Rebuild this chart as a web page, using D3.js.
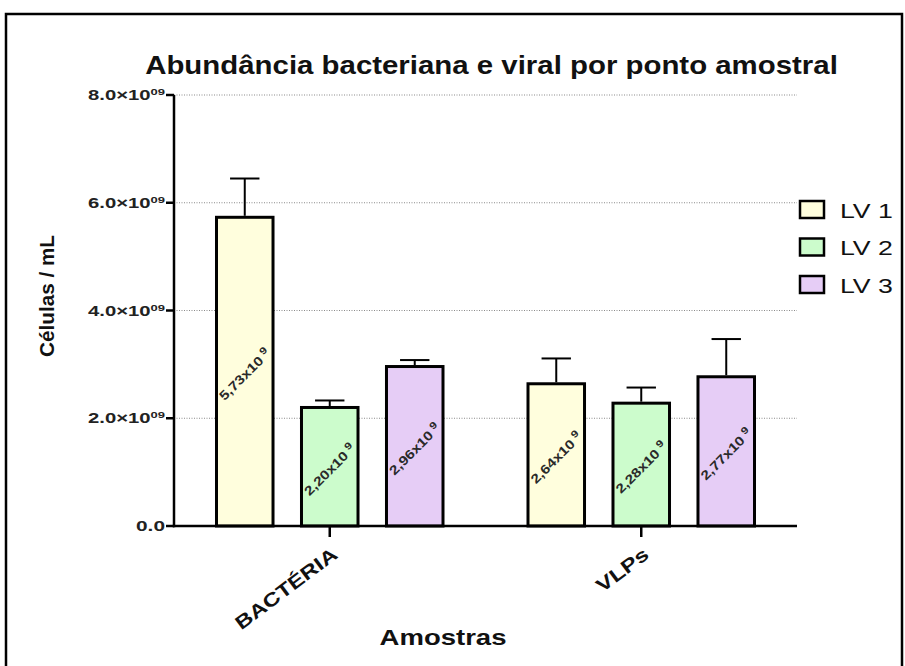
<!DOCTYPE html>
<html>
<head>
<meta charset="utf-8">
<script src="https://cdn.jsdelivr.net/npm/d3@7"></script>
<style>
  html, body { margin: 0; padding: 0; background: #fff; }
  svg { display: block; font-family: "Liberation Sans", Arial, sans-serif; }
</style>
</head>
<body>
<svg id="chart" width="905" height="666"></svg>
<script>
// Sample groups and sampling points
const groups = ["BACTÉRIA", "VLPs"];
const seriesNames = ["LV 1", "LV 2", "LV 3"];
const seriesColors = ["#fffedd", "#ccfccc", "#e6cdf6"];

// Mean abundance (cells/mL) per sampling point, one array per group
const bacteriaMeans = [5.73e9, 2.20e9, 2.96e9];
const vlpMeans = [2.64e9, 2.28e9, 2.77e9];
// Error bar (upper) per sampling point
const bacteriaErrors = [0.72e9, 0.13e9, 0.12e9];
const vlpErrors = [0.47e9, 0.29e9, 0.70e9];

// Y axis ticks
const yTicks = [0, 2e9, 4e9, 6e9, 8e9];
const yTickMantissas = ["0.0", "2.0", "4.0", "6.0", "8.0"];

const titleText = "Abundância bacteriana e viral por ponto amostral";
const yTitle = "Células / mL";
const xTitle = "Amostras";

const meansByGroup = [bacteriaMeans, vlpMeans];
const errorsByGroup = [bacteriaErrors, vlpErrors];

const rows = [];
groups.forEach((g, gi) => {
  seriesNames.forEach((s, si) => {
    rows.push({ group: g, series: s, si, value: meansByGroup[gi][si], err: errorsByGroup[gi][si] });
  });
});

const svg = d3.select("#chart");

// Stretch a text node along its own direction to a given length
function fitLength(textNode, len) {
  const natural = textNode.getComputedTextLength();
  if (natural > 0) d3.select(textNode).attr("transform", `scale(${len / natural},1)`);
}

// Frame
svg.append("rect").attr("x", 0).attr("y", 0).attr("width", 905).attr("height", 666).attr("fill", "#fff");
svg.append("rect")
  .attr("x", 6).attr("y", 14).attr("width", 896).attr("height", 700)
  .attr("fill", "none").attr("stroke", "#000").attr("stroke-width", 2.5);

const plotLeft = 174, plotRight = 797, plotTop = 95, plotBottom = 526;

const y = d3.scaleLinear().domain([0, 8e9]).range([plotBottom, plotTop]);
const x0 = d3.scaleBand().domain(groups).range([plotLeft, plotRight]);
const x1 = d3.scaleBand().domain(seriesNames).range([0, x0.bandwidth()])
  .paddingInner(0.335).paddingOuter(0.5);
const color = d3.scaleOrdinal().domain(seriesNames).range(seriesColors);

// Dotted grid lines
svg.append("g")
  .selectAll("line")
  .data(yTicks.filter(t => t > 0))
  .join("line")
  .attr("x1", plotLeft).attr("x2", plotRight)
  .attr("y1", d => y(d)).attr("y2", d => y(d))
  .attr("stroke", "#8a8a8a").attr("stroke-width", 1)
  .attr("stroke-dasharray", "1,1.5");

// Bars
svg.append("g")
  .selectAll("rect")
  .data(rows)
  .join("rect")
  .attr("x", d => x0(d.group) + x1(d.series))
  .attr("y", d => y(d.value))
  .attr("width", x1.bandwidth())
  .attr("height", d => y(0) - y(d.value))
  .attr("fill", d => color(d.series))
  .attr("stroke", "#000").attr("stroke-width", 3);

// Error bars
const errG = svg.append("g").attr("stroke", "#000").attr("stroke-width", 2);
rows.forEach(d => {
  const cx = x0(d.group) + x1(d.series) + x1.bandwidth() / 2;
  const capHalf = x1.bandwidth() * 0.26;
  errG.append("line").attr("x1", cx).attr("x2", cx)
    .attr("y1", y(d.value) - 1.5).attr("y2", y(d.value + d.err));
  errG.append("line").attr("x1", cx - capHalf).attr("x2", cx + capHalf)
    .attr("y1", y(d.value + d.err)).attr("y2", y(d.value + d.err));
});

// Value labels inside bars
const fmtMantissa = v => (v / 1e9).toFixed(2).replace(".", ",");
rows.forEach(d => {
  const cx = x0(d.group) + x1(d.series) + x1.bandwidth() / 2;
  const cy = (y(d.value) + y(0)) / 2 + 3;
  const g = svg.append("g").attr("transform", `translate(${cx},${cy}) rotate(-45)`);
  const t = g.append("text")
    .attr("text-anchor", "middle")
    .attr("dy", "0.35em")
    .attr("font-size", 13)
    .attr("font-weight", "bold")
    .attr("fill", "#2a2a2a");
  t.append("tspan").text(fmtMantissa(d.value) + "x10");
  t.append("tspan").attr("dx", 3).attr("dy", -5).attr("font-size", 10).text("9");
  fitLength(t.node(), 63);
});

// Axis lines
svg.append("line").attr("x1", plotLeft).attr("x2", plotLeft).attr("y1", plotTop).attr("y2", plotBottom + 1.25)
  .attr("stroke", "#000").attr("stroke-width", 2.5);
svg.append("line").attr("x1", plotLeft - 1.25).attr("x2", plotRight).attr("y1", plotBottom).attr("y2", plotBottom)
  .attr("stroke", "#000").attr("stroke-width", 2.5);

// Y ticks and labels
yTicks.forEach((t, i) => {
  svg.append("line").attr("x1", plotLeft - 8).attr("x2", plotLeft).attr("y1", y(t)).attr("y2", y(t))
    .attr("stroke", "#000").attr("stroke-width", 2.5);
  const g = svg.append("g").attr("transform", `translate(${plotLeft - 9},${y(t) + 5})`);
  const txt = g.append("text").attr("text-anchor", "end").attr("font-weight", "bold")
    .attr("font-size", 14).attr("fill", "#222");
  if (t === 0) {
    txt.text(yTickMantissas[i]);
    fitLength(txt.node(), 29);
  } else {
    txt.append("tspan").text(yTickMantissas[i] + "×10");
    txt.append("tspan").attr("dy", -5).attr("font-size", 9).text("09");
    fitLength(txt.node(), 77);
  }
});

// X ticks and category labels
groups.forEach(g => {
  const cx = x0(g) + x0.bandwidth() / 2;
  svg.append("line").attr("x1", cx).attr("x2", cx).attr("y1", plotBottom).attr("y2", plotBottom + 11)
    .attr("stroke", "#000").attr("stroke-width", 2.5);
  const lg = svg.append("g").attr("transform", `translate(${cx + 9},${plotBottom + 31}) rotate(-37)`);
  const txt = lg.append("text").attr("text-anchor", "end").attr("font-weight", "bold")
    .attr("font-size", 19).attr("fill", "#111").text(g);
  fitLength(txt.node(), g === "VLPs" ? 60 : 122);
});

// Title
const title = svg.append("g").attr("transform", "translate(491.5,74)")
  .append("text").attr("text-anchor", "middle").attr("font-weight", "bold")
  .attr("font-size", 25).attr("fill", "#111").text(titleText);
fitLength(title.node(), 693);

// Axis titles
const yt = svg.append("g").attr("transform", "translate(54,296) rotate(-90)")
  .append("text").attr("text-anchor", "middle").attr("font-weight", "bold")
  .attr("font-size", 20).attr("fill", "#111").text(yTitle);
fitLength(yt.node(), 122);

const xt = svg.append("g").attr("transform", "translate(443,645)")
  .append("text").attr("text-anchor", "middle").attr("font-weight", "bold")
  .attr("font-size", 22).attr("fill", "#111").text(xTitle);
fitLength(xt.node(), 127);

// Legend
const legend = svg.append("g").attr("transform", "translate(800,201)");
seriesNames.forEach((s, i) => {
  const row = legend.append("g").attr("transform", `translate(0,${i * 37.5})`);
  row.append("rect").attr("x", 0).attr("y", 0).attr("width", 24).attr("height", 17)
    .attr("fill", color(s)).attr("stroke", "#000").attr("stroke-width", 2.5);
  const t = row.append("g").attr("transform", "translate(40,16.5)")
    .append("text").attr("font-size", 20).attr("fill", "#111").text(s);
  fitLength(t.node(), 53);
});
</script>
</body>
</html>
